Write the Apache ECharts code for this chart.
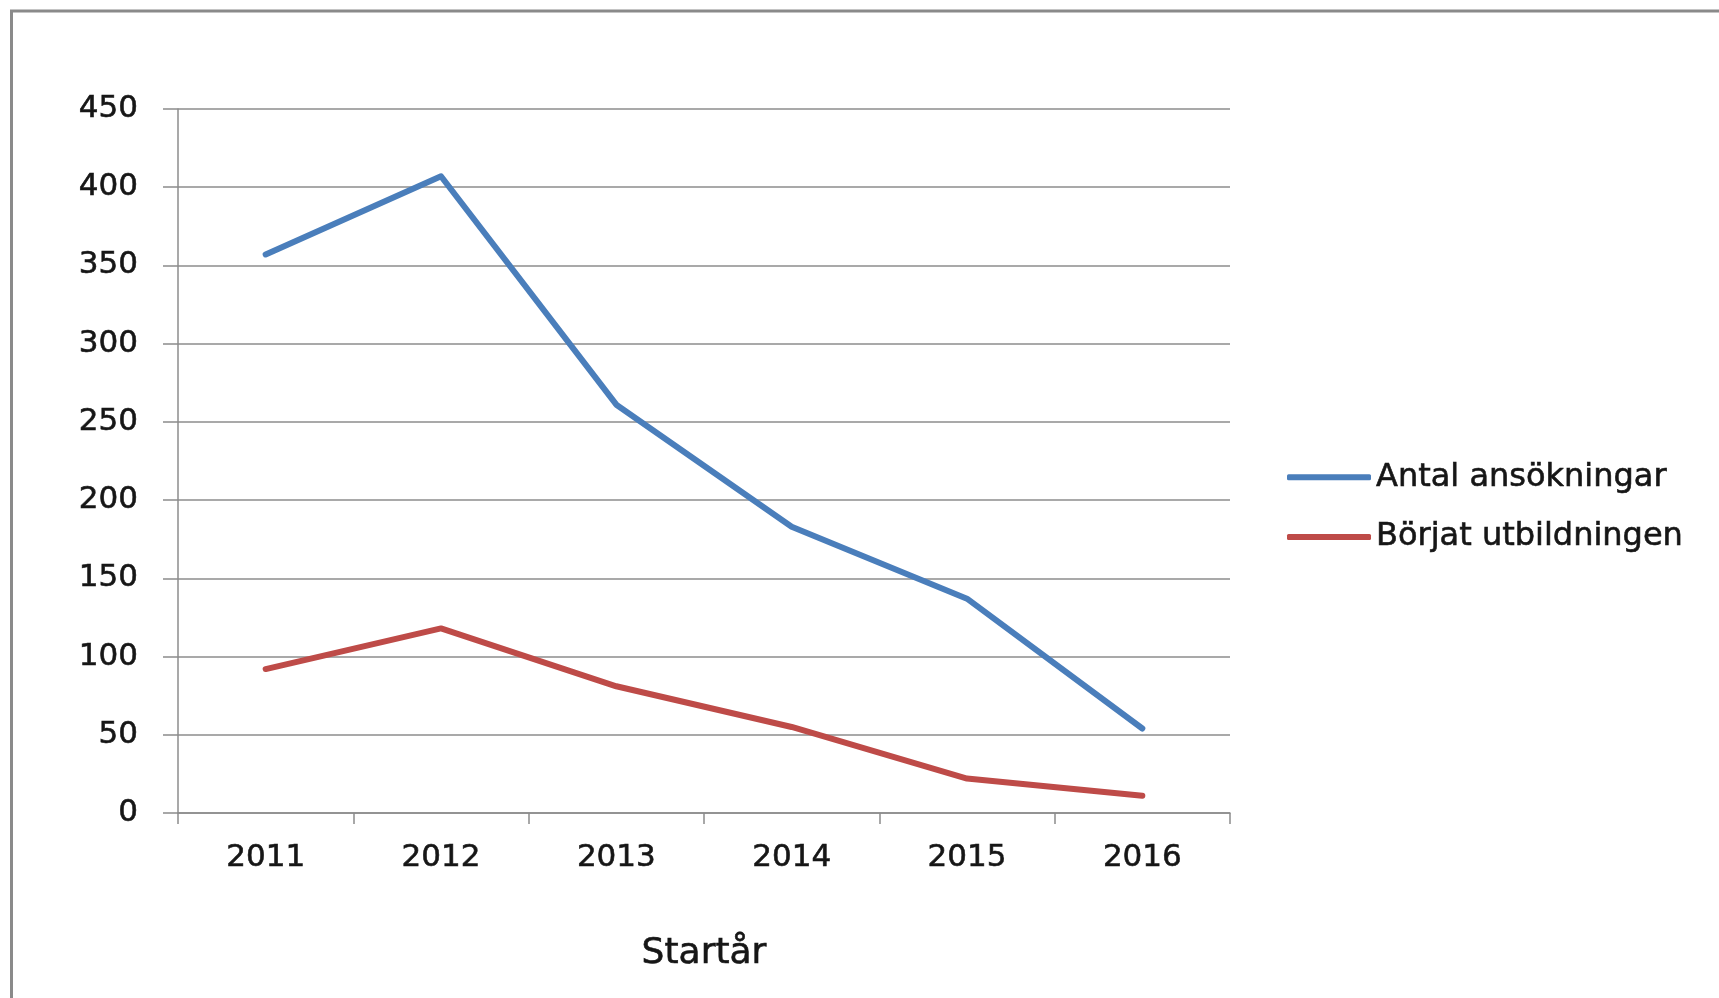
<!DOCTYPE html>
<html>
<head>
<meta charset="utf-8">
<script src="https://cdn.jsdelivr.net/npm/echarts@6/dist/echarts.min.js"></script>
<style>
  html, body { margin: 0; padding: 0; background: #ffffff; }
  #chart { width: 1719px; height: 998px; }
</style>
</head>
<body>
<div id="chart"></div>
<script>
const categories = ['2011', '2012', '2013', '2014', '2015', '2016'];
const antalAnsokningar = [357, 407, 261, 183, 137, 54];
const borjatUtbildningen = [92, 118, 81, 55, 22, 11];
const seriesNames = ['Antal ansökningar', 'Börjat utbildningen'];
const axisTitle = 'Startår';
const yMin = 0, yMax = 450, yStep = 50;

const FONT = 'DejaVu Sans';
const TEXT = '#161616';
const GRID = '#8c8c8c';
const bolden = { textBorderColor: '#161616', textBorderWidth: 0.6 };

const chart = echarts.init(document.getElementById('chart'), null, { renderer: 'canvas' });
chart.setOption({
  backgroundColor: '#ffffff',
  animation: false,
  graphic: [{
    type: 'polyline',
    shape: { points: [[11.5, 998], [11.5, 11], [1719, 11]] },
    style: { stroke: '#8a8a8a', lineWidth: 3, fill: null }
  }],
  grid: {
    left: 178, top: 109, right: 489, bottom: 185,
    containLabel: false, outerBoundsMode: 'none'
  },
  legend: {
    orient: 'vertical',
    left: 1282,
    top: 456,
    itemWidth: 84,
    itemHeight: 6,
    itemGap: 27,
    icon: 'roundRect',
    textStyle: Object.assign({ fontFamily: FONT, fontSize: 32, color: TEXT }, bolden),
    data: seriesNames
  },
  xAxis: {
    type: 'category',
    data: categories,
    boundaryGap: true,
    name: axisTitle,
    nameLocation: 'middle',
    nameGap: 123,
    nameTextStyle: Object.assign({ fontFamily: FONT, fontSize: 36, color: TEXT }, bolden),
    axisLine: { show: true, lineStyle: { color: GRID, width: 1.5 } },
    axisTick: { show: true, inside: false, length: 11, alignWithLabel: false, lineStyle: { color: GRID, width: 1.5 } },
    axisLabel: Object.assign({ fontFamily: FONT, fontSize: 31, color: TEXT, margin: 29 }, bolden),
    splitLine: { show: false }
  },
  yAxis: {
    type: 'value',
    min: yMin, max: yMax, interval: yStep,
    axisLine: { show: true, lineStyle: { color: GRID, width: 1.5 } },
    axisTick: { show: true, inside: false, length: 15, lineStyle: { color: GRID, width: 1.5 } },
    axisLabel: Object.assign({ fontFamily: FONT, fontSize: 31, color: TEXT, margin: 40 }, bolden),
    splitLine: { show: true, lineStyle: { color: GRID, width: 1.5 } }
  },
  series: [
    {
      name: seriesNames[0], type: 'line', data: antalAnsokningar,
      symbol: 'none', smooth: false,
      itemStyle: { color: '#4A7EBB' },
      lineStyle: { color: '#4A7EBB', width: 6, cap: 'round', join: 'round' }
    },
    {
      name: seriesNames[1], type: 'line', data: borjatUtbildningen,
      symbol: 'none', smooth: false,
      itemStyle: { color: '#BE4B48' },
      lineStyle: { color: '#BE4B48', width: 6, cap: 'round', join: 'round' }
    }
  ]
});
</script>
</body>
</html>
